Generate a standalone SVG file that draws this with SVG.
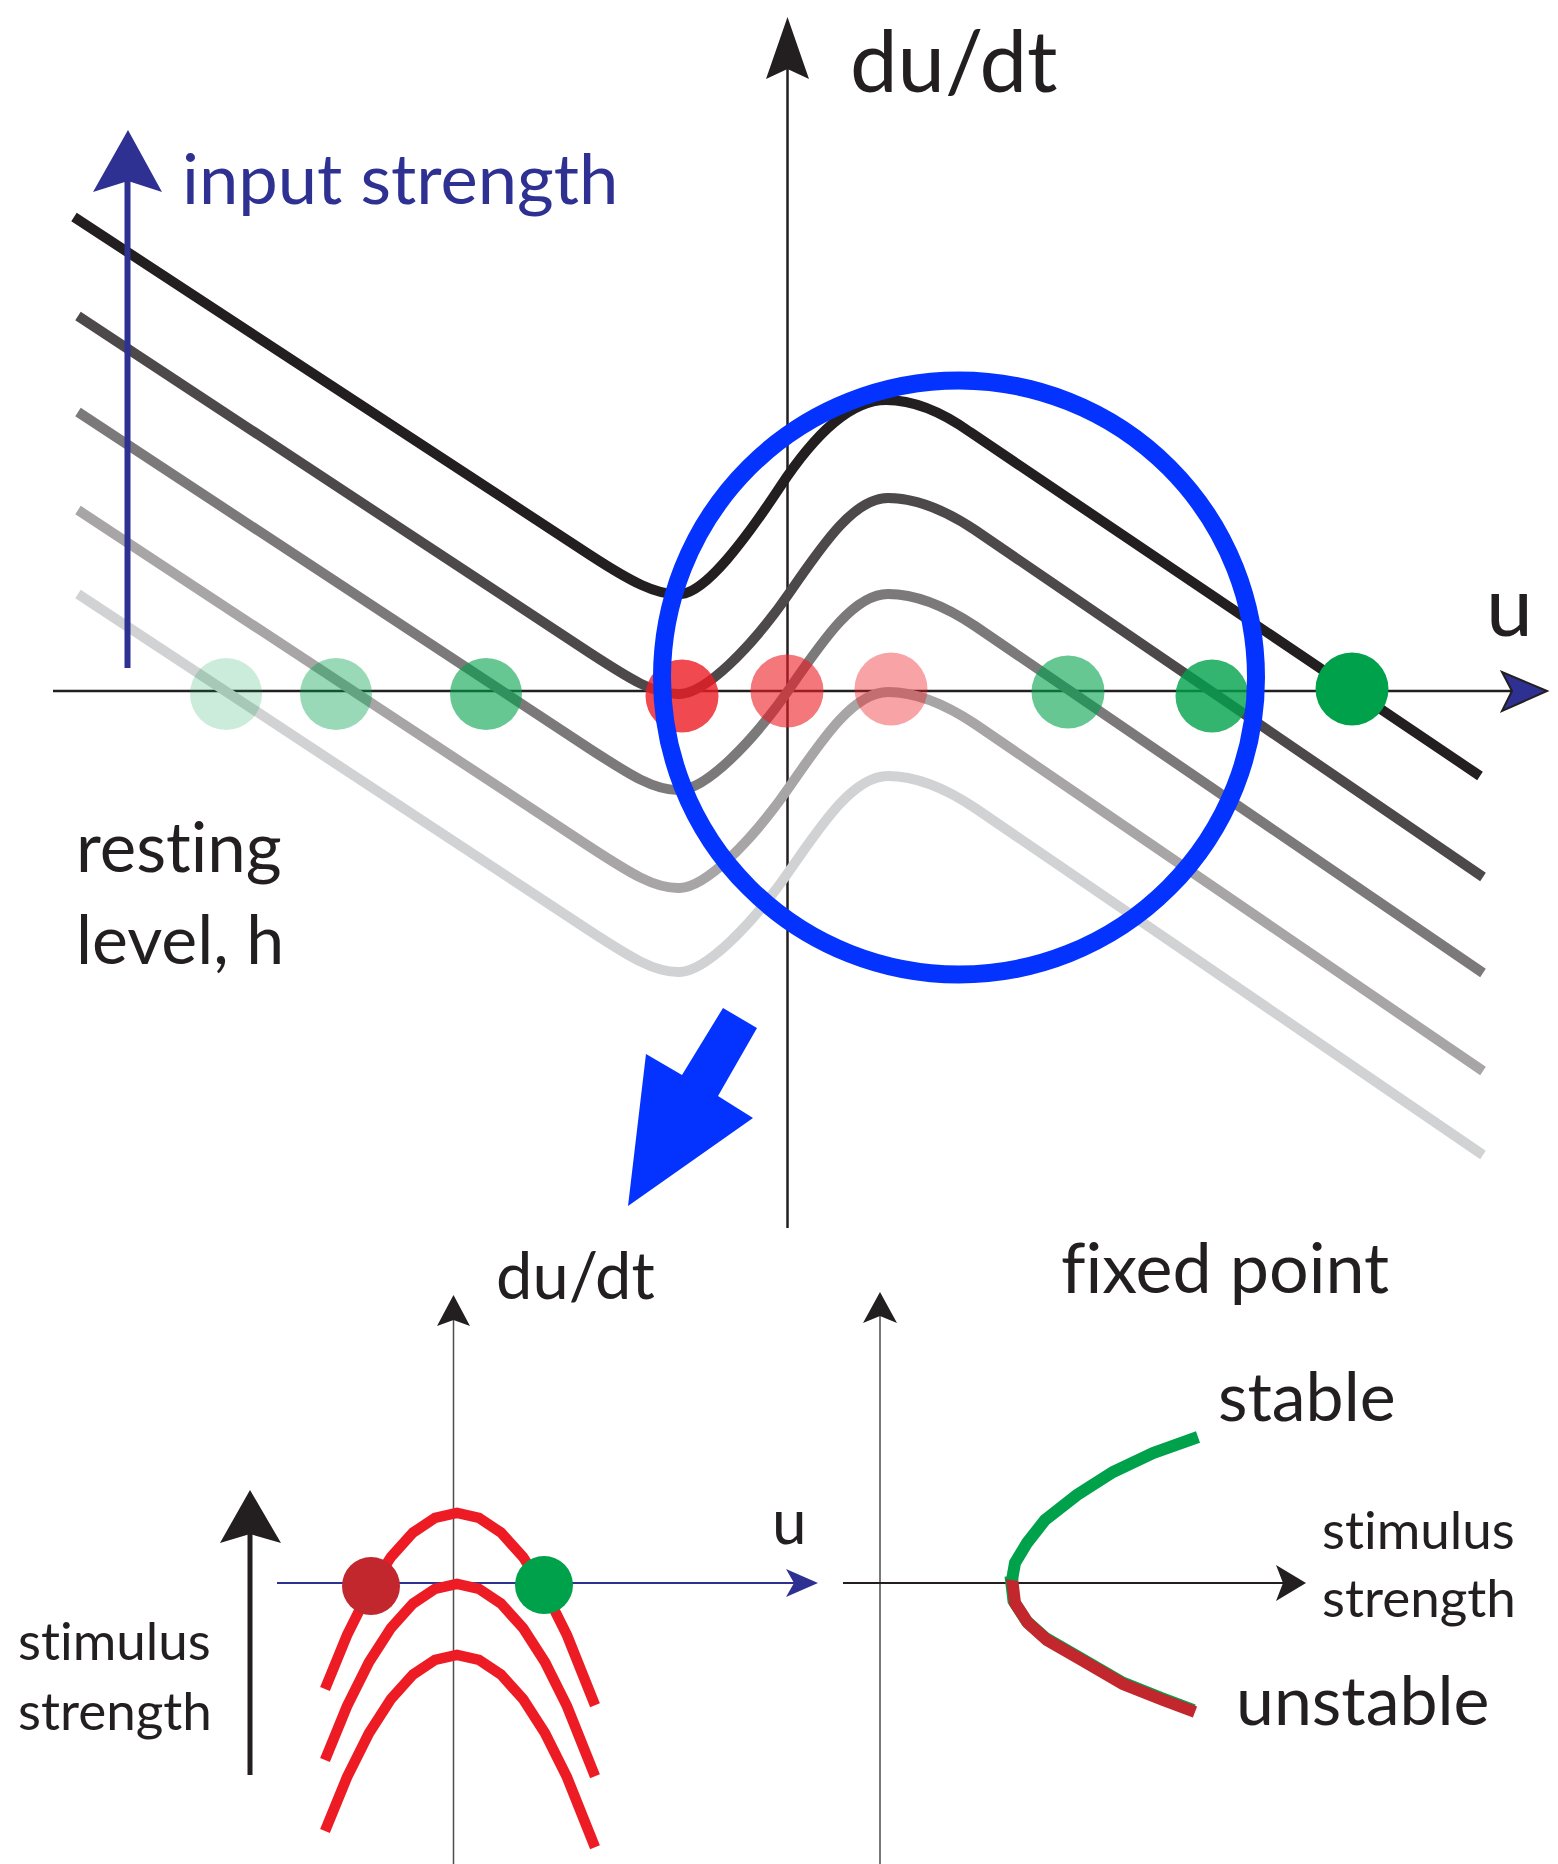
<svg xmlns="http://www.w3.org/2000/svg" xmlns:xlink="http://www.w3.org/1999/xlink" width="1558" height="1864" viewBox="0 0 1558 1864">
<style>
text{font-family:Lato,"Open Sans","Liberation Sans",sans-serif;fill:#231f20;font-variant-ligatures:none}
.navy{fill:#2e3192}
.curve{fill:none;stroke-width:10}
.axis{stroke:#231f20;stroke-width:2.5;fill:none}
.thin{stroke:#4d4d4f;stroke-width:1.5;fill:none}
.par{fill:none;stroke:#ed1c24;stroke-width:10.5}
.br{fill:none;stroke-width:12}
</style>
<defs>
<path id="cB" d="M78,316 L590,653 C630,679 655,695 680,694 C705,693 750,650 790,592 C825,541 855,498 888,498 C915,498 945,510 975,530 L1483,877"/>
</defs>
<rect width="1558" height="1864" fill="#fff"/>

<g id="axes-main">
<line class="axis" x1="787.5" y1="60" x2="787.5" y2="1228"/>
<polygon points="787.5,17 809,79 787.5,69 766,79" fill="#231f20"/>
<line class="axis" x1="53" y1="691" x2="1512" y2="691"/>
<polygon points="1547,691 1502,672 1512,691 1502,711" fill="#2e3192" stroke="#231f20" stroke-width="2" stroke-linejoin="miter"/>
</g>

<g id="curves">
<use xlink:href="#cB" class="curve" stroke="#d1d2d3" transform="translate(0,278)"/>
<use xlink:href="#cB" class="curve" stroke="#a7a5a6" transform="translate(0,194)"/>
<use xlink:href="#cB" class="curve" stroke="#7b797a" transform="translate(0,96)"/>
<use xlink:href="#cB" class="curve" stroke="#4d494a"/>
<path class="curve" stroke="#231f20" d="M74,217 L590,555 C630,581 657,596 681,594 C706,592 745,540 780,487 C815,434 850,400 886,400 C915,400 942,412 970,432 L1480,776"/>
</g>

<g id="input-arrow">
<line x1="127.5" y1="668" x2="127.5" y2="180" stroke="#2e3192" stroke-width="6"/>
<polygon points="128,130 162,192 128,181 93,192" fill="#2e3192"/>
<text class="navy" x="182" y="204" font-size="70.5">input strength</text>
</g>

<g id="fixed-points">
<circle cx="226" cy="694" r="36" fill="#00a14b" fill-opacity="0.2"/>
<circle cx="336" cy="694" r="36" fill="#00a14b" fill-opacity="0.4"/>
<circle cx="486" cy="694" r="36" fill="#00a14b" fill-opacity="0.6"/>
<circle cx="682" cy="696" r="36.5" fill="#ed1c24" fill-opacity="0.8"/>
<circle cx="787" cy="691" r="36.5" fill="#ed1c24" fill-opacity="0.6"/>
<circle cx="891" cy="689" r="36.5" fill="#ed1c24" fill-opacity="0.4"/>
<circle cx="1068" cy="692" r="36.5" fill="#00a14b" fill-opacity="0.6"/>
<circle cx="1212" cy="696" r="36.5" fill="#00a14b" fill-opacity="0.8"/>
<circle cx="1352" cy="689" r="36.5" fill="#00a14b"/>
</g>

<g id="highlight">
<circle cx="959" cy="677.5" r="297" fill="none" stroke="#0433ff" stroke-width="18"/>
<polygon points="723,1008 757,1028 718,1096 753,1118 628,1206 646,1054 682,1075" fill="#0433ff"/>
</g>

<g id="labels-main">
<text x="850" y="92" font-size="85">du/dt</text>
<text x="1486" y="636" font-size="84">u</text>
<text x="76" y="872" font-size="69">resting</text>
<text x="76" y="964" font-size="68">level, h</text>
</g>

<g id="plot-left">
<line class="thin" x1="453.5" y1="1318" x2="453.5" y2="1864"/>
<polygon points="453.5,1295 470,1326 453.5,1320 437,1326" fill="#231f20"/>
<line x1="277" y1="1583" x2="795" y2="1583" stroke="#2e3192" stroke-width="2"/>
<polygon points="818,1583 786,1569 794,1583 786,1597" fill="#2e3192"/>
<polyline class="par" points="325,1689 347,1635.2 369,1591.2 391,1557 413,1532.6 435,1517.9 457,1513 479,1517.9 501,1532.6 523,1557 545,1591.2 567,1635.2 595,1705.3"/>
<polyline class="par" transform="translate(0,71)" points="325,1689 347,1635.2 369,1591.2 391,1557 413,1532.6 435,1517.9 457,1513 479,1517.9 501,1532.6 523,1557 545,1591.2 567,1635.2 595,1705.3"/>
<polyline class="par" transform="translate(0,142)" points="325,1689 347,1635.2 369,1591.2 391,1557 413,1532.6 435,1517.9 457,1513 479,1517.9 501,1532.6 523,1557 545,1591.2 567,1635.2 595,1705.3"/>
<circle cx="371" cy="1586" r="29" fill="#c1272d"/>
<circle cx="544" cy="1585" r="29" fill="#00a14b"/>
<line x1="250" y1="1775" x2="250" y2="1530" stroke="#231f20" stroke-width="5"/>
<polygon points="250,1490 281,1543 250,1534 220,1543" fill="#231f20"/>
<text x="496" y="1299" font-size="65">du/dt</text>
<text x="772" y="1544" font-size="62">u</text>
<text x="18" y="1660" font-size="53">stimulus</text>
<text x="18" y="1730" font-size="53">strength</text>
</g>

<g id="plot-right">
<line class="thin" x1="880" y1="1315" x2="880" y2="1864"/>
<polygon points="880,1292 897,1323 880,1316 863,1323" fill="#231f20"/>
<line class="axis" style="stroke-width:2" x1="843" y1="1583" x2="1285" y2="1583"/>
<polygon points="1306,1583 1276,1565 1283,1583 1276,1601" fill="#231f20"/>
<polyline class="br" stroke="#00a14b" transform="translate(-1.5,-2)" points="1012,1578 1015,1603 1028,1623 1047,1640 1080,1659 1123,1684 1163,1700 1195,1712"/>
<polyline class="br" stroke="#c1272d" points="1012,1578 1015,1603 1028,1623 1047,1640 1080,1659 1123,1684 1163,1700 1195,1712"/>
<polyline class="br" stroke="#00a14b" points="1012,1580 1015,1563 1027,1543 1045,1520 1077,1495 1113,1472 1153,1453 1198,1437"/>
<text x="1061" y="1293" font-size="70">fixed point</text>
<text x="1218" y="1421" font-size="68">stable</text>
<text x="1236" y="1725" font-size="68">unstable</text>
<text x="1322" y="1549" font-size="53">stimulus</text>
<text x="1322" y="1617" font-size="53">strength</text>
</g>
</svg>
